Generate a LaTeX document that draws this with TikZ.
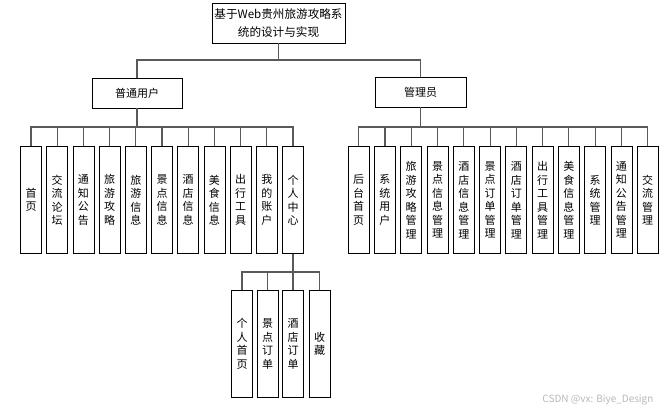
\documentclass[tikz,border=0pt]{standalone}
\usepackage{fontspec}
\setmainfont{Noto Sans CJK SC}
\begin{document}
\begin{tikzpicture}[x=1pt, y=-1pt,
  box/.style={draw=black, line width=0.8pt, fill=white, inner sep=0pt, align=center},
  leaf/.style={box, minimum width=21pt, minimum height=107pt,
    font=\fontsize{11}{13.5}\selectfont},
  link/.style={draw=black!65, line width=1.1pt}]
  \useasboundingbox (0,0) rectangle (663,413);
  \def\yl{200}  % row of the leaves
  \def\ys{344}  % row under the personal centre
  \def\dl{26.2}
  \def\dr{26.27}
  % top and second level
  \node[box, minimum width=133pt, minimum height=40pt,
    font=\fontsize{11.6}{17.5}\selectfont] (root) at (278.5,23)
    {基于Web贵州旅游攻略系\\统的设计与实现};
  \node[box, minimum width=90pt, minimum height=30pt,
    font=\fontsize{11}{13}\selectfont] (user) at (137,93) {普通用户};
  \node[box, minimum width=91pt, minimum height=30pt,
    font=\fontsize{11}{13}\selectfont] (admin) at (420.5,92) {管理员};
  \coordinate (busT) at (0,60);
  \coordinate (busL) at (0,127);
  \coordinate (busP) at (0,272);
  % ordinary user
  \node[leaf] (u1) at (31,\yl) {首\\页};
  \node[leaf] (u2) at (31+1*\dl,\yl) {交\\流\\论\\坛};
  \node[leaf] (u3) at (31+2*\dl,\yl) {通\\知\\公\\告};
  \node[leaf] (u4) at (31+3*\dl,\yl) {旅\\游\\攻\\略};
  \node[leaf] (u5) at (31+4*\dl,\yl) {旅\\游\\信\\息};
  \node[leaf] (u6) at (31+5*\dl,\yl) {景\\点\\信\\息};
  \node[leaf] (u7) at (31+6*\dl,\yl) {酒\\店\\信\\息};
  \node[leaf] (u8) at (31+7*\dl,\yl) {美\\食\\信\\息};
  \node[leaf] (u9) at (31+8*\dl,\yl) {出\\行\\工\\具};
  \node[leaf] (u10) at (31+9*\dl,\yl) {我\\的\\账\\户};
  \node[leaf] (u11) at (31+10*\dl,\yl) {个\\人\\中\\心};
  % personal centre
  \node[leaf] (p1) at (242,\ys) {个\\人\\首\\页};
  \node[leaf] (p2) at (267.5,\ys) {景\\点\\订\\单};
  \node[leaf] (p3) at (293,\ys) {酒\\店\\订\\单};
  \node[leaf] (p4) at (319.5,\ys) {收\\藏};
  % administrator
  \node[leaf] (a1) at (358.7,\yl) {后\\台\\首\\页};
  \node[leaf] (a2) at (358.7+1*\dr,\yl) {系\\统\\用\\户};
  \node[leaf] (a3) at (358.7+2*\dr,\yl) {旅\\游\\攻\\略\\管\\理};
  \node[leaf] (a4) at (358.7+3*\dr,\yl) {景\\点\\信\\息\\管\\理};
  \node[leaf] (a5) at (358.7+4*\dr,\yl) {酒\\店\\信\\息\\管\\理};
  \node[leaf] (a6) at (358.7+5*\dr,\yl) {景\\点\\订\\单\\管\\理};
  \node[leaf] (a7) at (358.7+6*\dr,\yl) {酒\\店\\订\\单\\管\\理};
  \node[leaf] (a8) at (358.7+7*\dr,\yl) {出\\行\\工\\具\\管\\理};
  \node[leaf] (a9) at (358.7+8*\dr,\yl) {美\\食\\信\\息\\管\\理};
  \node[leaf] (a10) at (358.7+9*\dr,\yl) {系\\统\\管\\理};
  \node[leaf] (a11) at (358.7+10*\dr,\yl) {通\\知\\公\\告\\管\\理};
  \node[leaf] (a12) at (358.7+11*\dr,\yl) {交\\流\\管\\理};
  % connectors
  \draw[link] (root.south) -- (root.south |- busT) -| (user.north);
  \draw[link] (root.south) -- (root.south |- busT) -| (admin.north);
  \foreach \n in {u1,u2,u3,u4,u5,u6,u7,u8,u9,u10,u11}
    \draw[link] (user.south) -- (user.south |- busL) -| (\n.north);
  \foreach \n in {a1,a2,a3,a4,a5,a6,a7,a8,a9,a10,a11,a12}
    \draw[link] (admin.south) -- (admin.south |- busL) -| (\n.north);
  \foreach \n in {p1,p2,p3,p4}
    \draw[link] (u11.south) -- (u11.south |- busP) -| (\n.north);
  \node[text=black!28, font=\fontsize{10}{11}\selectfont, anchor=east] (mark)
    at (657,400) {CSDN @vx: Biye\_Design};
\end{tikzpicture}
\end{document}
